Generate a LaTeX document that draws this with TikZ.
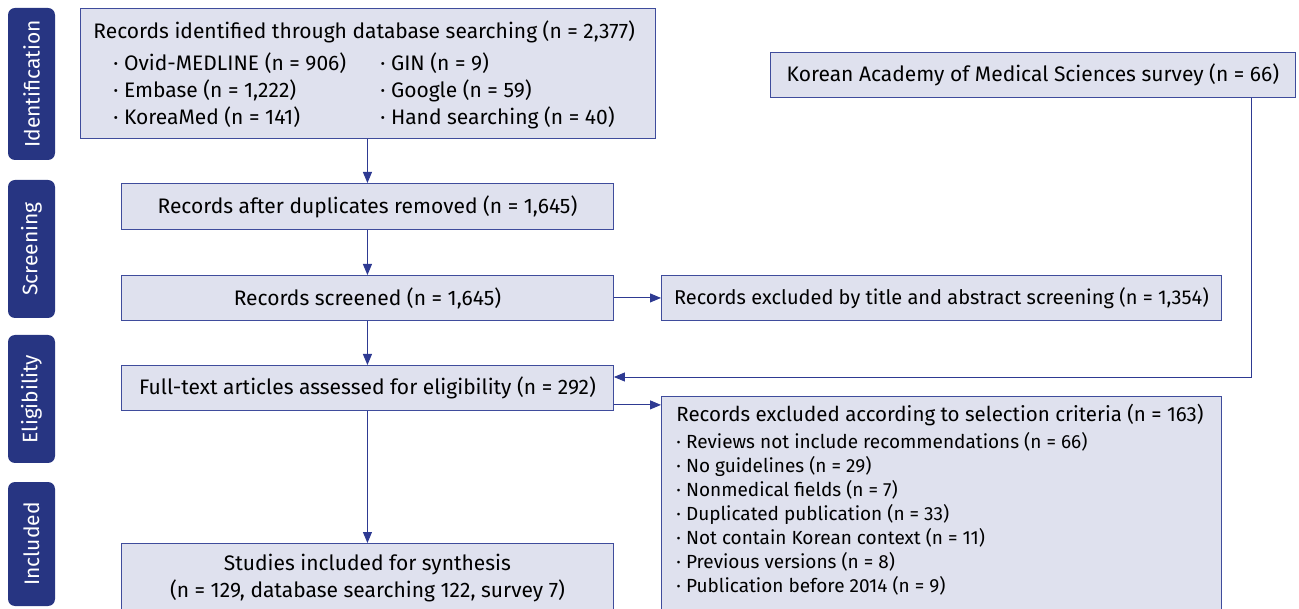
\documentclass[tikz,border=0pt]{standalone}
\usepackage{fontspec}
\setmainfont{Fira Sans}
\usetikzlibrary{arrows.meta}
\definecolor{boxfill}{HTML}{DFE1EE}
\definecolor{boxline}{HTML}{3F4C9C}
\definecolor{stagefill}{HTML}{273582}
\definecolor{arrowc}{HTML}{2E3A92}

\begin{document}
\begin{tikzpicture}[x=1pt,y=-1pt,
    box/.style={draw=boxline, fill=boxfill, line width=0.9pt, inner sep=0pt, font=\fontsize{21}{27}\selectfont},
    stage/.style={fill=stagefill, rounded corners=7pt, text=white, rotate=90, minimum height=47pt, inner sep=0pt, font=\fontsize{21}{22}\selectfont},
    arr/.style={draw=arrowc, line width=0.9pt, -{Stealth[length=11pt,width=9pt,inset=0pt]}}]
    \useasboundingbox (0,0) rectangle (1299,609);
    % stage labels
    \node[stage, minimum width=152pt] (ident) at (31.5,84) {Identification};
    \node[stage, minimum width=138pt] (screen) at (31.5,249) {Screening};
    \node[stage, minimum width=128pt] (elig) at (31.5,399) {Eligibility};
    \node[stage, minimum width=124pt] (inclu) at (31.5,544) {Included};
    % boxes
    \node[box, anchor=north west, minimum width=575pt, minimum height=130pt, align=left] (db) at (80,8)
      {\begin{minipage}[c][130pt][t]{549pt}\vspace{12pt}
       Records identified through database searching (n = 2,377)\\[8pt]
       \hspace*{20pt}\begin{tabular}{@{}p{267pt}@{}l@{}}
       · Ovid-MEDLINE (n = 906) & · GIN (n = 9)\\
       · Embase (n = 1,222) & · Google (n = 59)\\
       · KoreaMed (n = 141) & · Hand searching (n = 40)
       \end{tabular}\end{minipage}};
    \node[box, anchor=north west, minimum width=525pt, minimum height=45pt] (kams) at (770,52)
      {Korean Academy of Medical Sciences survey (n = 66)};
    \node[box, anchor=north west, minimum width=492pt, minimum height=46pt] (dup) at (121,183)
      {Records after duplicates removed (n = 1,645)};
    \node[box, anchor=north west, minimum width=492pt, minimum height=45pt] (scr) at (121,275)
      {Records screened (n = 1,645)};
    \node[box, anchor=north west, minimum width=560pt, minimum height=45pt, font=\fontsize{20}{27}\selectfont] (excl) at (661,275)
      {Records excluded by title and abstract screening (n = 1,354)};
    \node[box, anchor=north west, minimum width=492pt, minimum height=45pt] (full) at (121,365)
      {Full-text articles assessed for eligibility (n = 292)};
    \node[box, anchor=north west, minimum width=560pt] (crit) at (661,396)
      {\begin{minipage}[c][222pt][t]{530pt}\vspace{8pt}
       {\fontsize{20.5}{27}\selectfont Records excluded according to selection criteria (n = 163)\par}
       \vspace{3pt}
       {\fontsize{19}{24}\selectfont
       · Reviews not include recommendations (n = 66)\\
       · No guidelines (n = 29)\\
       · Nonmedical fields (n = 7)\\
       · Duplicated publication (n = 33)\\
       · Not contain Korean context (n = 11)\\
       · Previous versions (n = 8)\\
       · Publication before 2014 (n = 9)\par}
       \end{minipage}};
    \node[box, anchor=north west, minimum width=492pt, minimum height=70pt, align=center] (incl) at (121,543)
      {Studies included for synthesis\\(n = 129, database searching 122, survey 7)};
    % connectors
    \draw[arr] (db.south -| dup.north) -- (dup.north);
    \draw[arr] (dup.south) -- (scr.north);
    \draw[arr] (scr.south) -- (full.north);
    \draw[arr] (full.south) -- (incl.north);
    \draw[arr] (scr.east) -- (excl.west);
    \coordinate (fe) at ([yshift=6pt]full.south east);
    \draw[arr] (fe) -- (fe -| crit.west);
    \coordinate (kc) at ([xshift=-44pt]kams.south east);
    \draw[arr] (kc) |- ([yshift=-12pt]full.north east);
\end{tikzpicture}
\end{document}
